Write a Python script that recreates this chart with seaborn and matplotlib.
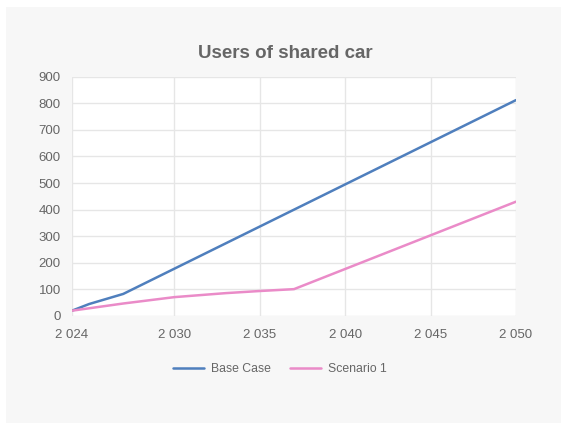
import matplotlib
matplotlib.use("Agg")
import matplotlib.pyplot as plt
from matplotlib.patches import Rectangle
from matplotlib.ticker import FuncFormatter
import pandas as pd
import seaborn as sns

# Users of shared car, by year
base_years = [2024, 2025, 2026, 2027, 2050]
base_users = [20, 45, 64, 83, 812]

scen_years = [2024, 2027, 2030, 2033, 2035, 2037, 2050]
scen_users = [20, 47, 71, 86, 94, 101, 430]

series_names = ["Base Case", "Scenario 1"]
x_ticks = [2024, 2030, 2035, 2040, 2045, 2050]
y_ticks = [0, 100, 200, 300, 400, 500, 600, 700, 800, 900]

df = pd.concat([
    pd.DataFrame({"year": base_years, "users": base_users, "series": series_names[0]}),
    pd.DataFrame({"year": scen_years, "users": scen_users, "series": series_names[1]}),
])

sns.set_theme(style="white")
plt.rcParams["font.family"] = ["Liberation Sans", "DejaVu Sans"]

text_col = "#666666"
grid_col = "#e6e6e6"

fig = plt.figure(figsize=(5.61, 4.23), dpi=100, facecolor="white")
fig.patches.append(Rectangle((6 / 561, 0), 1 - 6 / 561, 1 - 7 / 423,
                             transform=fig.transFigure, facecolor="#f7f7f7",
                             edgecolor="none", zorder=-10))

ax = fig.add_axes([72 / 561, 1 - 316 / 423, (516 - 72) / 561, (316 - 76.7) / 423])
ax.set_facecolor("white")

sns.lineplot(data=df, x="year", y="users", hue="series", hue_order=series_names,
             palette=["#4f7fbd", "#ea8bc8"], linewidth=1.8, ax=ax, legend=True,
             estimator=None, sort=False)

ax.set_xlim(2024, 2050)
ax.set_ylim(0, 900)
ax.set_xticks(x_ticks)
ax.set_yticks(y_ticks)
ax.xaxis.set_major_formatter(FuncFormatter(lambda v, p: f"{v:,.0f}".replace(",", " ")))
ax.grid(True, color=grid_col, linewidth=1)
ax.set_axisbelow(True)
for s in ax.spines.values():
    s.set_visible(False)
ax.tick_params(axis="both", which="major", length=5, width=1, color=grid_col,
               labelcolor=text_col, labelsize=9.5, pad=3)
ax.tick_params(axis="x", pad=4)
ax.set_xlabel("")
ax.set_ylabel("")

handles, labels = ax.get_legend_handles_labels()
ax.get_legend().remove()
leg = fig.legend(handles, labels, loc="center", bbox_to_anchor=(0.499, 1 - 369 / 423),
                 ncol=2, frameon=False, fontsize=8.8, handlelength=2.5,
                 columnspacing=1.6, handletextpad=0.6)
for t in leg.get_texts():
    t.set_color(text_col)

fig.text(0.509, 1 - 53 / 423, "Users of shared car", ha="center", va="center",
         fontsize=13.5, fontweight="bold", color=text_col)

fig.savefig("out.png", dpi=100, facecolor=fig.get_facecolor())
